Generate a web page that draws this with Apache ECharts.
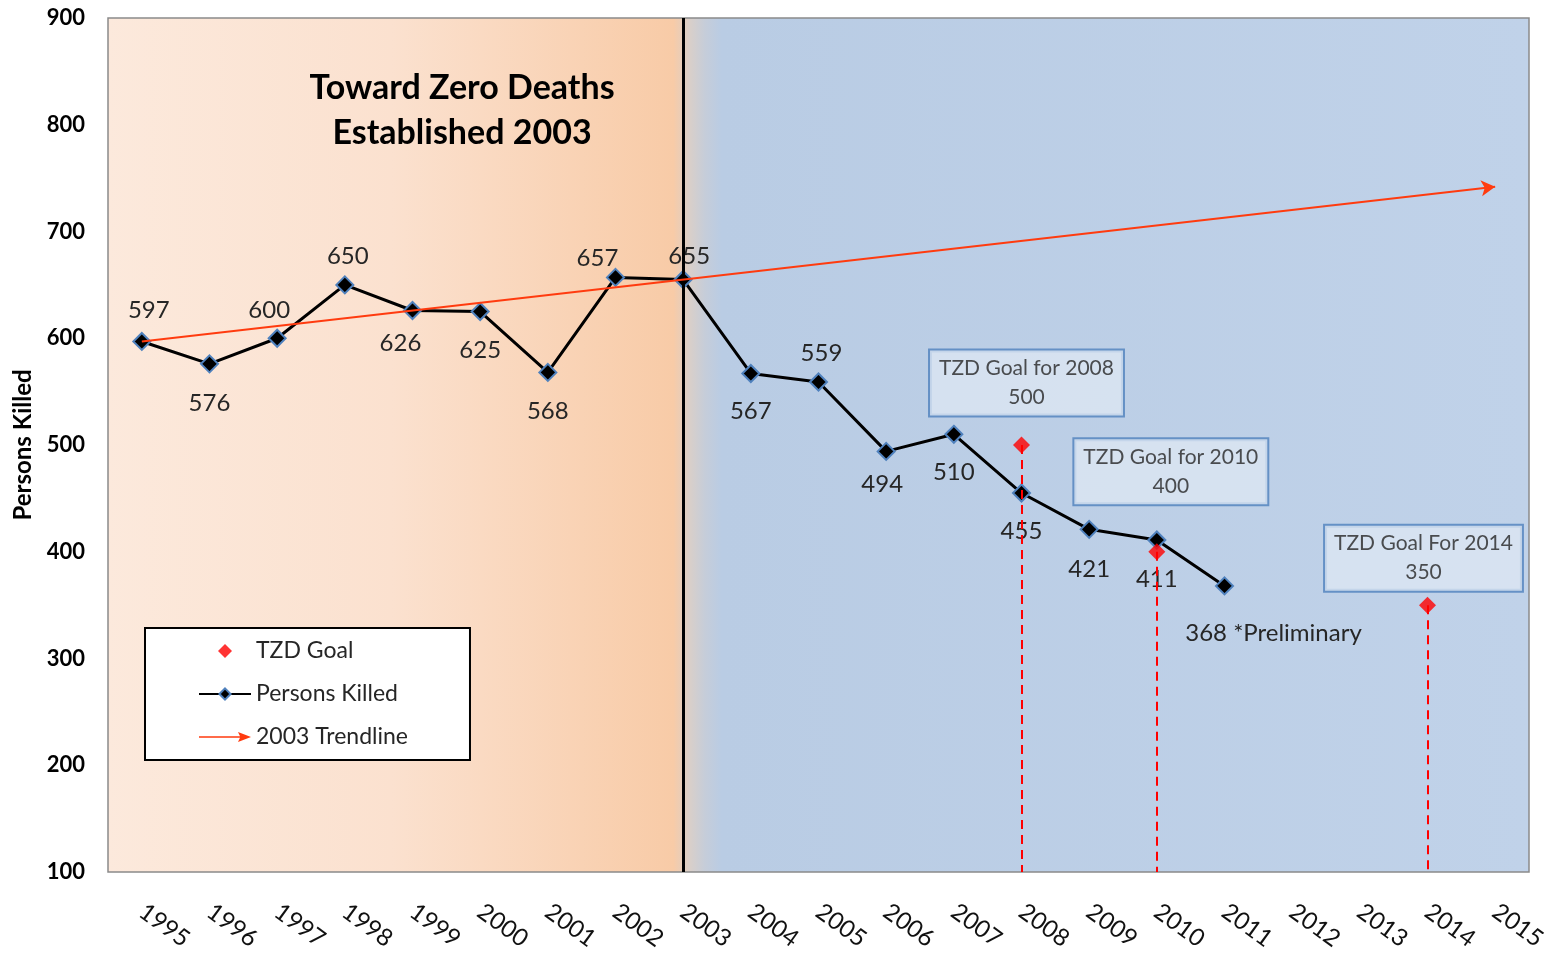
<!DOCTYPE html>
<html>
<head>
<meta charset="utf-8">
<script src="https://cdn.jsdelivr.net/npm/echarts@6/dist/echarts.min.js"></script>
<style>
  html, body { margin: 0; padding: 0; background: #fff; }
  #chartmain { width: 1554px; height: 953px; }
</style>
</head>
<body>
<div id="chartmain"></div>
<script>
// categories and values
var years = ['1995', '1996', '1997', '1998', '1999', '2000', '2001', '2002', '2003', '2004',
	'2005', '2006', '2007', '2008', '2009', '2010', '2011', '2012', '2013', '2014', '2015'];
var killed = [597, 576, 600, 650, 626, 625, 568, 657, 655, 567, 559, 494, 510, 455, 421, 411, 368];
var killedNotes = { '2011': '*Preliminary' };
var goalYears = ['2008', '2010', '2014'];
var goalValues = [500, 400, 350];
var goalTitles = ['TZD Goal for 2008', 'TZD Goal for 2010', 'TZD Goal For 2014'];
var trendYears = ['1995', '2015'];
var trendValues = [597, 742];
var establishedYear = '2003';
var yMin = 100, yMax = 900, yStep = 100;

// label placement (centre offset from the marker), style only
var killedLabelOffsets = [[7, -31], [0, 39], [-8, -28], [3, -29], [-12, 33], [0, 39], [0, 39], [-18, -19],
	[6, -23], [0, 38], [3, -29], [-4, 33], [0, 38], [0, 38], [0, 40], [0, 39], [49, 47]];
var goalLabelOffsets = [[5, -62], [14, -80], [-4, -47]];

var font = 'Lato';
var trendColor = '#ff3b0f';

var option = {
	animation : false,
	backgroundColor : '#ffffff',
	textStyle : { fontFamily : font },
	grid : {
		left : 108,
		right : 25,
		top : 18,
		bottom : 81,
		outerBoundsMode : 'none',
		containLabel : false,
		show : true,
		borderColor : '#8a8a8a',
		borderWidth : 1.5,
		backgroundColor : {
			type : 'linear', x : 0, y : 0, x2 : 1, y2 : 0,
			colorStops : [
				{ offset : 0, color : '#fce9dc' },
				{ offset : 0.2, color : '#fbe1cf' },
				{ offset : 0.398, color : '#f8cba7' },
				{ offset : 0.41, color : '#d8cfca' },
				{ offset : 0.42, color : '#c6cdd9' },
				{ offset : 0.432, color : '#b9cce4' },
				{ offset : 1, color : '#c0d2e9' }
			]
		}
	},
	legend : {
		orient : 'vertical',
		left : 145,
		top : 628,
		padding : [11, 62, 11, 53],
		itemGap : 19,
		itemWidth : 52,
		itemHeight : 14,
		backgroundColor : '#ffffff',
		borderColor : '#000000',
		borderWidth : 2,
		borderRadius : 0,
		textStyle : { fontFamily : font, fontSize : 23, color : '#262626', lineHeight : 24 },
		data : [
			{ name : 'TZD Goal', icon : 'path://M0,8L8,0L16,8L8,16Z' },
			{ name : 'Persons Killed' },
			{ name : '2003 Trendline', icon : 'path://M0,4.2L41,4.2L39,0L52,5L39,10L41,5.8L0,5.8Z' }
		]
	},
	graphic : [{
		type : 'text',
		x : 462,
		y : 66,
		z : 10,
		style : {
			text : 'Toward Zero Deaths\nEstablished 2003',
			font : 'bold 34px ' + font,
			fill : '#000000',
			textAlign : 'center',
			lineHeight : 45
		}
	}],
	xAxis : {
		type : 'category',
		data : years,
		boundaryGap : true,
		axisLine : { show : false },
		axisTick : { show : false },
		splitLine : { show : false },
		axisLabel : {
			interval : 0,
			rotate : -36,
			margin : 37,
			fontFamily : font,
			fontSize : 24,
			color : '#111111'
		}
	},
	yAxis : {
		type : 'value',
		min : yMin,
		max : yMax,
		interval : yStep,
		name : 'Persons Killed',
		nameLocation : 'middle',
		nameRotate : 90,
		nameGap : 73,
		nameTextStyle : { fontFamily : font, fontSize : 24, fontWeight : 'bold', color : '#000' },
		axisLine : { show : false },
		axisTick : { show : false },
		splitLine : { show : false },
		axisLabel : {
			margin : 23,
			fontFamily : font,
			fontSize : 22,
			fontWeight : 'bold',
			color : '#000000'
		}
	},
	series : [
		{
			name : 'TZD Goal',
			type : 'scatter',
			symbol : 'diamond',
			symbolSize : 17,
			z : 6,
			itemStyle : { color : '#ff0000' },
			label : {
				show : true,
				position : 'inside',
				fontFamily : font,
				fontSize : 21,
				lineHeight : 29,
				color : '#262626',
				backgroundColor : '#dce6f2',
				borderColor : '#4f81bd',
				borderWidth : 2,
				padding : [4, 9, 3, 9],
				align : 'center',
				formatter : function(p) {
					return goalTitles[p.dataIndex] + '\n' + p.value[1];
				}
			},
			data : goalYears.map(function(y, i) {
				return { value : [y, goalValues[i]], label : { offset : goalLabelOffsets[i] } };
			}),
			markLine : {
				silent : true,
				symbol : 'none',
				label : { show : false },
				lineStyle : { color : '#ff0000', type : [9, 6], width : 2 },
				data : goalYears.map(function(y, i) {
					return [{ coord : [y, goalValues[i]] }, { coord : [y, yMin] }];
				})
			}
		},
		{
			name : 'Persons Killed',
			type : 'line',
			symbol : 'diamond',
			symbolSize : 17,
			z : 3,
			lineStyle : { color : '#000000', width : 3 },
			itemStyle : { color : '#000000', borderColor : '#4f81bd', borderWidth : 2 },
			label : {
				show : true,
				position : 'inside',
				fontFamily : font,
				fontSize : 24,
				color : '#262626',
				formatter : function(p) {
					var note = killedNotes[years[p.dataIndex]];
					return note ? p.value + ' ' + note : String(p.value);
				}
			},
			data : killed.map(function(v, i) {
				return { value : v, label : { offset : killedLabelOffsets[i] } };
			}),
			markLine : {
				silent : true,
				symbol : 'none',
				label : { show : false },
				lineStyle : { color : '#000000', type : 'solid', width : 3 },
				data : [{ xAxis : establishedYear }]
			}
		},
		{
			name : '2003 Trendline',
			type : 'line',
			color : trendColor,
			symbol : 'none',
			z : 5,
			lineStyle : { opacity : 0 },
			data : trendYears.map(function(y, i) { return [y, trendValues[i]]; }),
			markLine : {
				silent : true,
				symbol : ['none', 'arrow'],
				symbolSize : [12, 14],
				label : { show : false },
				lineStyle : { color : trendColor, type : 'solid', width : 2 },
				data : [[{ coord : [trendYears[0], trendValues[0]] }, { coord : [trendYears[1], trendValues[1]] }]]
			}
		}
	]
};

var myChart = echarts.init(document.getElementById('chartmain'));
myChart.setOption(option);
</script>
</body>
</html>
